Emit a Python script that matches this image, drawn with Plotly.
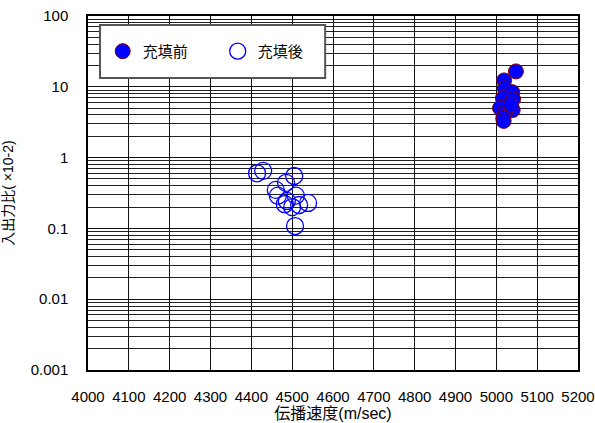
import plotly.graph_objects as go

# 充填前 (before filling)
before_speed = [5048, 5019, 5021, 5039, 5016, 5041, 5009, 5040, 5021, 5017, 5018, 5036]
before_ratio = [16.5, 12.3, 9.5, 8.4, 6.9, 6.7, 5.0, 4.7, 4.3, 3.6, 3.3, 5.6]

# 充填後 (after filling)
after_speed = [4414, 4429, 4505, 4485, 4460, 4465, 4509, 4487, 4517, 4539, 4500, 4482, 4507]
after_ratio = [0.60, 0.65, 0.55, 0.44, 0.35, 0.29, 0.29, 0.244, 0.214, 0.229, 0.20, 0.22, 0.108]

x_ticks = list(range(4000, 5201, 100))
y_ticks = [0.001, 0.01, 0.1, 1, 10, 100]
y_tick_text = ["0.001", "0.01", "0.1", "1", "10", "100"]

FONT = "Arial, 'Liberation Sans', 'Noto Sans CJK JP', sans-serif"

fig = go.Figure()
fig.add_trace(go.Scatter(
    x=before_speed, y=before_ratio, mode="markers", name="充填前",
    marker=dict(size=15, color="#0000ff", line=dict(color="#800000", width=1)),
))
fig.add_trace(go.Scatter(
    x=after_speed, y=after_ratio, mode="markers", name="充填後",
    marker=dict(size=17, color="rgba(255,255,255,0)", line=dict(color="#0000ff", width=1.3)),
))

# legend frame
fig.add_shape(type="rect", xref="paper", yref="paper",
              x0=0.0245, x1=0.484, y0=0.825, y1=0.9746,
              fillcolor="white", line=dict(color="#555555", width=2), layer="above")

fig.update_layout(
    width=595, height=423,
    margin=dict(l=88, r=17, t=16, b=53, autoexpand=False),
    paper_bgcolor="white", plot_bgcolor="white",
    font=dict(family=FONT, size=15, color="black"),
    showlegend=True,
    legend=dict(orientation="h", x=0.03, y=0.90, xanchor="left", yanchor="middle",
                bgcolor="rgba(0,0,0,0)", borderwidth=0,
                font=dict(size=15, family=FONT),
                entrywidth=70, entrywidthmode="pixels"),
    xaxis=dict(
        range=[4000, 5200], tickvals=x_ticks, ticktext=[str(v) for v in x_ticks],
        tickfont=dict(size=15),
        showgrid=True, gridcolor="#111111", gridwidth=1,
        showline=True, linecolor="black", linewidth=1.5, mirror=True,
        ticks="", zeroline=False, ticklabelstandoff=12, automargin=False,
        title=dict(text="伝播速度(m/sec)", font=dict(size=16), standoff=2),
    ),
    yaxis=dict(
        type="log", range=[-3, 2], tickvals=y_ticks, ticktext=y_tick_text,
        tickfont=dict(size=15),
        showgrid=True, gridcolor="#111111", gridwidth=1,
        minor=dict(dtick="D1", showgrid=True, gridcolor="#222222", gridwidth=1),
        showline=True, linecolor="black", linewidth=1.5, mirror=True,
        ticks="", zeroline=False, ticklabelstandoff=15, automargin=False,
        title=dict(text="入出力比( ×10-2)", font=dict(size=14), standoff=14),
    ),
)

fig.write_html("out.html")
